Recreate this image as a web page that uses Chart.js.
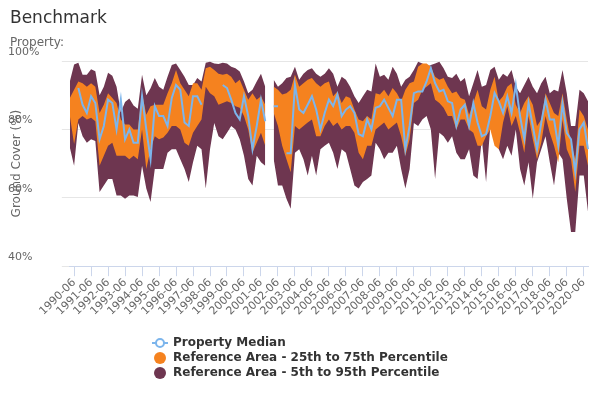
<!DOCTYPE html>
<html>
<head>
<meta charset="utf-8">
<script src="https://cdn.jsdelivr.net/npm/chart.js@4"></script>
<style>
  body { margin: 0; font-family: "DejaVu Sans", sans-serif; background: #fff; }
  #wrap { position: relative; width: 600px; height: 400px; }
  #title { position: absolute; left: 10px; top: 7px; font-size: 17px; color: #333; }
  #sub { position: absolute; left: 10px; top: 35px; font-size: 12px; color: #666; }
  #legend { position: absolute; left: 152px; top: 335px; font-size: 12px; font-weight: bold; color: #333; }
  #legend div { height: 15px; line-height: 15px; display: flex; align-items: center; }
  #legend span.sym { position: relative; width: 16px; height: 12px; margin-right: 5px; }
</style>
</head>
<body>
<div id="wrap">
  <canvas id="benchChart" width="600" height="400"></canvas>
  <div id="title">Benchmark</div>
  <div id="sub">Property:</div>
  <div id="legend"></div>
</div>
<script>
const years = [];
for (let y = 1990; y <= 2020; y++) years.push(y);
const months = ['03', '06', '09', '12'];
const labels = [];
years.forEach(y => months.forEach(m => labels.push(y + '-' + m)));
labels.length = 123; // 1990-03 .. 2020-09

const p95 = [94,99,99.5,96,96,97.6,97,90,92.5,96.6,95.7,92.5,85,88,89,87,86,96,90,92,95,92.5,91.6,95.4,98.8,99.3,97.4,95.4,93,93,95,94,
  99.5,99.8,99.3,99.1,99.5,99.3,98.3,97.9,96.9,94,90.6,91.6,94,96.3,92.5,null,94.5,92.5,93.5,95,95.4,98.3,94.5,96.3,97.4,97.9,96.3,95.4,96.3,97.9,
  96.3,92.5,95.4,94.5,92.5,89.7,87.7,89.7,91.6,91.1,99.3,95.4,96,94.5,98.3,96.3,92.5,94.5,95.4,97.4,99.8,99.3,98.3,98.8,99.3,99.8,97.9,95.4,95,96.3,94,
  95,89.7,93.5,97.4,92.5,93,97.4,98.3,94.5,96.3,95.4,97.4,92.5,90.6,93,95.4,92.5,90.6,93.5,95.4,90.6,91.6,91.1,97.4,90.6,81,81,91.6,90.6,88.2];
const p75 = [89.2,91.6,94,93.5,92.5,93.5,92.5,84.8,87.2,90.6,89.2,87.7,82.9,81.4,81.4,80,80,90.6,84.3,86.8,87.2,87.2,87.2,90.6,93.5,97.4,93.5,91.6,89.7,93.5,93.5,91.6,
  97.9,98.3,97.4,96.3,96,96.3,95.4,93.5,94.5,91.6,88.7,90.6,88.7,89.7,87.2,null,92.5,91.6,90.2,90.6,91.6,96,92.5,93.5,94.5,95,93.5,92.5,93.5,94,
  89.7,91.1,87.7,89.7,89.2,85.8,82.9,82.4,83.9,82.9,90.6,90.2,91.6,89.7,92.1,90.6,88.2,91.6,93.5,94,98.3,99.3,99.3,98.3,95.4,94.5,95,92.5,90.6,91.1,89.2,
  88.7,84.3,87.7,91.6,86.8,85.8,91.6,95.4,88.2,89.7,92.5,93.5,87.2,84.8,87.7,89.7,87.2,81,82.9,90.6,87.7,84.8,83.9,90.6,82.9,76.1,71.3,85.8,83.9,80];
const median = [null,null,92.1,87.2,84.8,89.7,87.7,77.1,81,88.7,87.7,80,88.7,77.1,80,76.1,76.1,89.7,80,71.3,86.8,83.9,83.9,81,89.2,93,91.6,82,81,89.7,89.7,87.2,
  null,null,null,null,93,92.1,88.7,84.8,82.9,89.7,83.9,74.2,81,88.7,82.4,null,86.8,86.8,null,73,73,93,85.8,84.8,87.2,89.7,85.8,80,84.8,88.7,
  86.8,90.2,83.9,85.8,86.8,84.8,78.6,78,82.9,80,86.3,86.8,88.7,86.3,83.9,88.7,88.7,74.2,81,90.6,91.1,91.1,94,97.9,93.5,91.1,91.6,88.2,87.7,81,85.8,
  87.2,81,87.7,82,78,78.6,83.9,90.6,88.2,84.8,89.7,84.8,93,83.9,77.1,87.7,81,74.2,82,88.7,82.9,82.9,75.2,87.7,79,77.1,67.5,80,82,74.2];
const p25 = [83.9,75.7,82.9,83.9,82.9,83.4,82.4,69.4,72.3,75.2,76.1,72.3,72.3,72.3,71.3,72.3,71.3,80,68.4,74.2,78,77.1,77.6,79,81,81,80,76.1,75.2,79,81,82.9,
  92.5,90.6,89.7,87.2,87.7,88.2,87.7,86.8,86.3,83.9,80,73.2,76.1,79,75.2,null,84.8,81,75.2,71.3,67.5,81,80,81,82,82.9,78,78,81,82.9,
  81,82,80,81,81,79,73.2,71.3,75.2,75.2,80,81,82,80,81,82,78,72.3,77.1,87.7,88.7,91.6,92.5,93.5,88.7,87.7,86.3,83.9,83.9,80,82.9,
  82.9,80,79,75.2,75.2,78,80,75.2,74.2,82,86.8,81,83.9,79,73.2,83.9,77.1,71.3,76.1,83.9,79,75.2,70.4,82.9,74.2,71.3,61.7,75.2,75.2,69.4];
const p5 = [74.7,69.4,81.9,78,76.1,77.1,76.6,61.7,63.6,65.5,65.5,60.7,60.7,59.7,60.7,60.7,60.2,69.4,62.7,58.8,68.4,68.4,68.4,73.2,74.2,74.2,71.3,68.4,64.6,70.4,75.2,74.2,
  62.7,74.2,81.9,78,77.1,79,81,80,77.1,72.3,65.5,63.6,72.3,70.4,69.4,null,71.3,63.6,63.6,59.7,56.8,73.2,74.2,71.3,66.5,72.3,66.5,74.2,75.2,76.1,
  73.2,68.4,74.2,73.2,68.4,63.6,62.7,64.6,65.5,66.5,76.1,74.2,71.3,73.2,73.2,75.2,68.4,62.7,68.4,81.9,81,82.9,83.9,80,65.5,79,78,76.1,78,73.2,71.3,
  71.3,74.2,66.5,65.5,77.1,64.6,81,77.1,74.2,71.3,75.2,72.3,80,68.4,63.6,70.4,59.7,70.4,74.2,78,70.4,63.6,73.2,71.3,59.7,50,50,66.5,66.5,55.9];

const DARK = '#6e3650';
const ORANGE = '#f5821f';
const BLUE = '#7cb5ec';

function band(data, fill, color, order) {
  return { data, fill, backgroundColor: color, borderColor: color, borderWidth: 0,
    pointRadius: 0, tension: 0, order, spanGaps: false };
}

const ctx = document.getElementById('benchChart').getContext('2d');
new Chart(ctx, {
  type: 'line',
  data: {
    labels,
    datasets: [
      { label: 'Property Median', data: median, borderColor: BLUE, backgroundColor: '#fff',
        borderWidth: 2, pointRadius: 0, fill: false, order: 0, spanGaps: false },
      band(p75, '+1', ORANGE, 1),
      band(p25, false, ORANGE, 1),
      band(p95, '+1', DARK, 2),
      band(p5, false, DARK, 2)
    ]
  },
  options: {
    responsive: false,
    animation: false,
    layout: { padding: { top: 61, right: 12, bottom: 82, left: 8 } },
    plugins: { legend: { display: false }, tooltip: { enabled: false } },
    scales: {
      x: {
        offset: false,
        grid: { drawOnChartArea: false, color: '#ccd6eb', tickLength: 10 },
        border: { color: '#ccd6eb' },
        ticks: {
          autoSkip: false, maxRotation: 45, minRotation: 45,
          color: '#666', font: { size: 11, family: 'DejaVu Sans' }, padding: 0,
          callback: function (v) {
            const l = labels[v];
            return l.endsWith('-06') ? l : null;
          }
        }
      },
      y: {
        min: 40, max: 100,
        grid: { color: '#e6e6e6' },
        border: { display: false },
        ticks: {
          stepSize: 20, color: '#666', font: { size: 11, family: 'DejaVu Sans' },
          labelOffset: -9, crossAlign: 'far', padding: 2,
          callback: v => v + '%'
        },
        title: { display: true, text: 'Ground Cover (%)', color: '#666',
          font: { size: 12, family: 'DejaVu Sans' }, padding: 2 }
      }
    }
  }
});

const legendItems = [
  { text: 'Property Median', color: BLUE, line: true },
  { text: 'Reference Area - 25th to 75th Percentile', color: ORANGE },
  { text: 'Reference Area - 5th to 95th Percentile', color: DARK }
];
const legend = document.getElementById('legend');
legendItems.forEach(item => {
  const row = document.createElement('div');
  const sym = document.createElement('span');
  sym.className = 'sym';
  if (item.line) {
    sym.innerHTML = '<span style="position:absolute;left:0;top:5px;width:16px;height:2px;background:' + item.color +
      '"></span><span style="position:absolute;left:3px;top:1px;width:6px;height:6px;border:2px solid ' + item.color +
      ';border-radius:50%;background:#fff"></span>';
  } else {
    sym.innerHTML = '<span style="position:absolute;left:2px;top:0;width:12px;height:12px;border-radius:50%;background:' + item.color + '"></span>';
  }
  row.appendChild(sym);
  row.appendChild(document.createTextNode(item.text));
  legend.appendChild(row);
});
</script>
</body>
</html>
